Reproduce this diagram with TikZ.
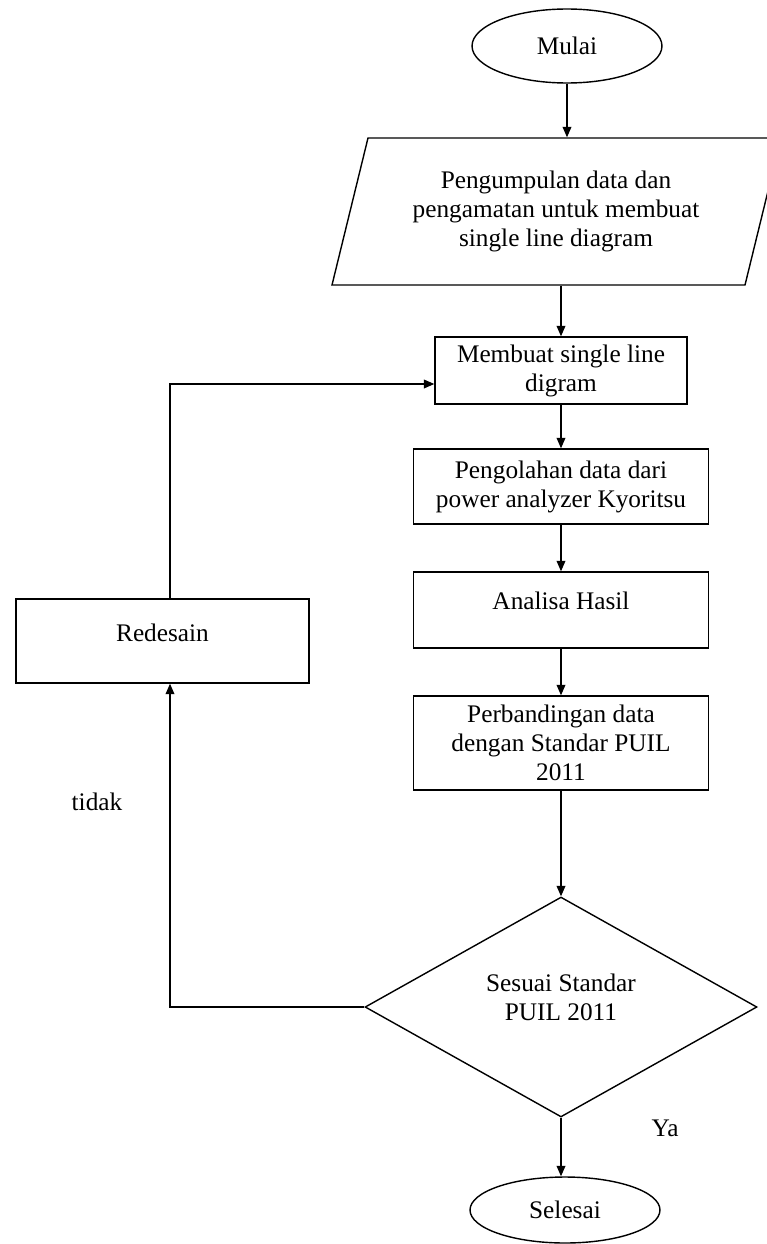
\documentclass[tikz,border=0pt]{standalone}
\usepackage{fontspec}
\setmainfont{Liberation Serif}
\usetikzlibrary{shapes.geometric, arrows.meta, positioning, calc}

\begin{document}
\begin{tikzpicture}[
    x=0.02cm, y=-0.02cm,
    font=\fontsize{14.4}{16.5}\selectfont,
    line width=0.8pt,
    % Node styles
    terminal/.style={ellipse, draw, minimum width=3.8cm, inner sep=0pt},
    process/.style={rectangle, draw, align=center, inner sep=2pt},
    decision/.style={diamond, draw, aspect=1.78, minimum width=7.84cm, minimum height=4.4cm, inner sep=0pt},
    arrow/.style={-{Triangle[length=6pt, width=5pt]}},
]
\useasboundingbox (0,0) rectangle (767,1244);

% ============================================================================
% MAIN FLOW
% ============================================================================
\node[terminal, minimum height=1.48cm] (mulai) at (567,46) {Mulai};

% Input (parallelogram)
\draw (332,285) -- (368,138) -- (781,138) -- (745,285) -- cycle;
\node[align=center, minimum height=2.94cm, inner sep=0pt] (kumpul) at (556,211.5)
    {Pengumpulan data dan\\pengamatan untuk membuat\\single line diagram};

\node[process, minimum width=5.04cm, minimum height=1.34cm] (buat) at (561,370.5)
    {Membuat single line\\digram};
\node[process, minimum width=5.9cm, minimum height=1.5cm] (olah) at (561,486.5)
    {Pengolahan data dari\\power analyzer Kyoritsu};
\node[process, minimum width=5.9cm, minimum height=1.52cm, text height=10pt, text depth=11pt] (analisa) at (561,610)
    {Analisa Hasil};
\node[process, minimum width=5.9cm, minimum height=1.88cm] (banding) at (561,743)
    {Perbandingan data\\dengan Standar PUIL\\2011};

% Decision
\node[decision] (cek) at (561,1007) {};
\node[align=center] (cekteks) at (561,997.5) {Sesuai Standar\\PUIL 2011};

\node[terminal, minimum height=1.32cm] (selesai) at (565,1210) {Selesai};

% Arrows down the main flow
\draw[arrow] (mulai.south) -- (mulai.south |- kumpul.north);
\draw[arrow] (buat.north |- kumpul.south) -- (buat.north);
\draw[arrow] (buat.south) -- (buat.south |- olah.north);
\draw[arrow] (olah.south) -- (olah.south |- analisa.north);
\draw[arrow] (analisa.south) -- (analisa.south |- banding.north);
\draw[arrow] (banding.south) -- (banding.south |- cek.north);
\draw[arrow] (cek.south) -- (cek.south |- selesai.north);
\node (ya) at (665,1128) {Ya};

% ============================================================================
% FEEDBACK LOOP
% ============================================================================
\node[process, minimum width=5.86cm, minimum height=1.68cm, text height=10pt, text depth=9pt] (redesain) at (162.5,641)
    {Redesain};
\coordinate (kiri) at (170,0);
\coordinate (masuk) at ($(buat.west)+(0,13.5)$);

\draw[arrow] (cek.west) -- (cek.west -| kiri) -- (kiri |- redesain.south);
\draw[arrow] (kiri |- redesain.north) -- (kiri |- masuk) -- (masuk);
\node (tidak) at (97,802) {tidak};

\end{tikzpicture}
\end{document}
